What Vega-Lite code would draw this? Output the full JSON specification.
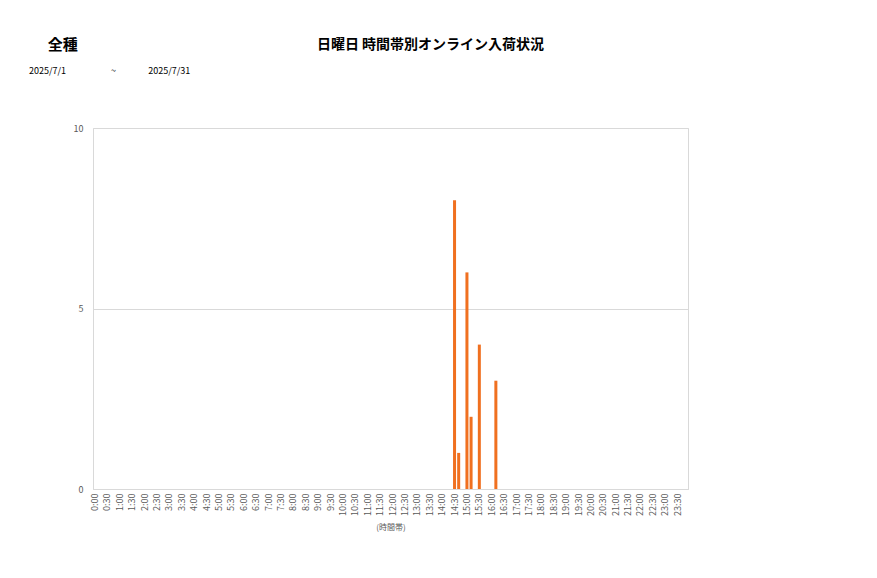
{
  "$schema": "https://vega.github.io/schema/vega-lite/v6.json",
  "width": 595,
  "height": 361,
  "autosize": {"type": "none"},
  "padding": {"left": 93, "top": 128, "right": 189, "bottom": 89},
  "background": "white",
  "config": {
    "font": "Noto Sans CJK JP",
    "view": {"stroke": "#d9d9d9", "strokeWidth": 1}
  },
  "title": {
    "text": "\u200b\u2003\u2005全種",
    "subtitle": "2025/7/1\u2003\u2003\u2003\u2003\u2003~\u2003\u2003\u2003\u2004\u20052025/7/31",
    "anchor": "start",
    "frame": "group",
    "dx": -64,
    "offset": -39,
    "fontSize": 15,
    "fontWeight": "bold",
    "color": "#000000",
    "subtitleFontSize": 9,
    "subtitleColor": "#000000",
    "subtitlePadding": 14
  },
  "data": {
    "values": [
      {"time": "14:30", "count": 8},
      {"time": "14:40", "count": 1},
      {"time": "15:00", "count": 6},
      {"time": "15:10", "count": 2},
      {"time": "15:30", "count": 4},
      {"time": "16:10", "count": 3}
    ]
  },
  "mark": {"type": "bar", "color": "#f07020"},
  "encoding": {
    "x": {
      "field": "time",
      "type": "ordinal",
      "sort": null,
      "scale": {
        "domain": ["0:00","0:10","0:20","0:30","0:40","0:50","1:00","1:10","1:20","1:30","1:40","1:50","2:00","2:10","2:20","2:30","2:40","2:50","3:00","3:10","3:20","3:30","3:40","3:50","4:00","4:10","4:20","4:30","4:40","4:50","5:00","5:10","5:20","5:30","5:40","5:50","6:00","6:10","6:20","6:30","6:40","6:50","7:00","7:10","7:20","7:30","7:40","7:50","8:00","8:10","8:20","8:30","8:40","8:50","9:00","9:10","9:20","9:30","9:40","9:50","10:00","10:10","10:20","10:30","10:40","10:50","11:00","11:10","11:20","11:30","11:40","11:50","12:00","12:10","12:20","12:30","12:40","12:50","13:00","13:10","13:20","13:30","13:40","13:50","14:00","14:10","14:20","14:30","14:40","14:50","15:00","15:10","15:20","15:30","15:40","15:50","16:00","16:10","16:20","16:30","16:40","16:50","17:00","17:10","17:20","17:30","17:40","17:50","18:00","18:10","18:20","18:30","18:40","18:50","19:00","19:10","19:20","19:30","19:40","19:50","20:00","20:10","20:20","20:30","20:40","20:50","21:00","21:10","21:20","21:30","21:40","21:50","22:00","22:10","22:20","22:30","22:40","22:50","23:00","23:10","23:20","23:30","23:40","23:50"],
        "paddingInner": 0.27,
        "paddingOuter": 0.135
      },
      "axis": {
        "values": ["0:00","0:30","1:00","1:30","2:00","2:30","3:00","3:30","4:00","4:30","5:00","5:30","6:00","6:30","7:00","7:30","8:00","8:30","9:00","9:30","10:00","10:30","11:00","11:30","12:00","12:30","13:00","13:30","14:00","14:30","15:00","15:30","16:00","16:30","17:00","17:30","18:00","18:30","19:00","19:30","20:00","20:30","21:00","21:30","22:00","22:30","23:00","23:30"],
        "title": "(時間帯)",
        "titleFontSize": 8,
        "titleFontWeight": "normal",
        "titleColor": "#595959",
        "titlePadding": 8,
        "labelAngle": -90,
        "labelFontSize": 9,
        "labelColor": "#595959",
        "labelPadding": 4,
        "labelOverlap": false,
        "ticks": false,
        "domainColor": "#d9d9d9",
        "grid": false
      }
    },
    "y": {
      "field": "count",
      "type": "quantitative",
      "scale": {"domain": [0, 10]},
      "axis": {
        "values": [0, 5, 10],
        "title": "日曜日 時間帯別オンライン入荷状況",
        "titleAngle": 0,
        "titleX": 337,
        "titleY": -84,
        "titleAlign": "center",
        "titleBaseline": "middle",
        "titleFontSize": 14,
        "titleFontWeight": "bold",
        "titleColor": "#000000",
        "labelFontSize": 9,
        "labelColor": "#595959",
        "labelPadding": 10,
        "ticks": false,
        "domain": false,
        "grid": true,
        "gridColor": "#d9d9d9"
      }
    }
  }
}
